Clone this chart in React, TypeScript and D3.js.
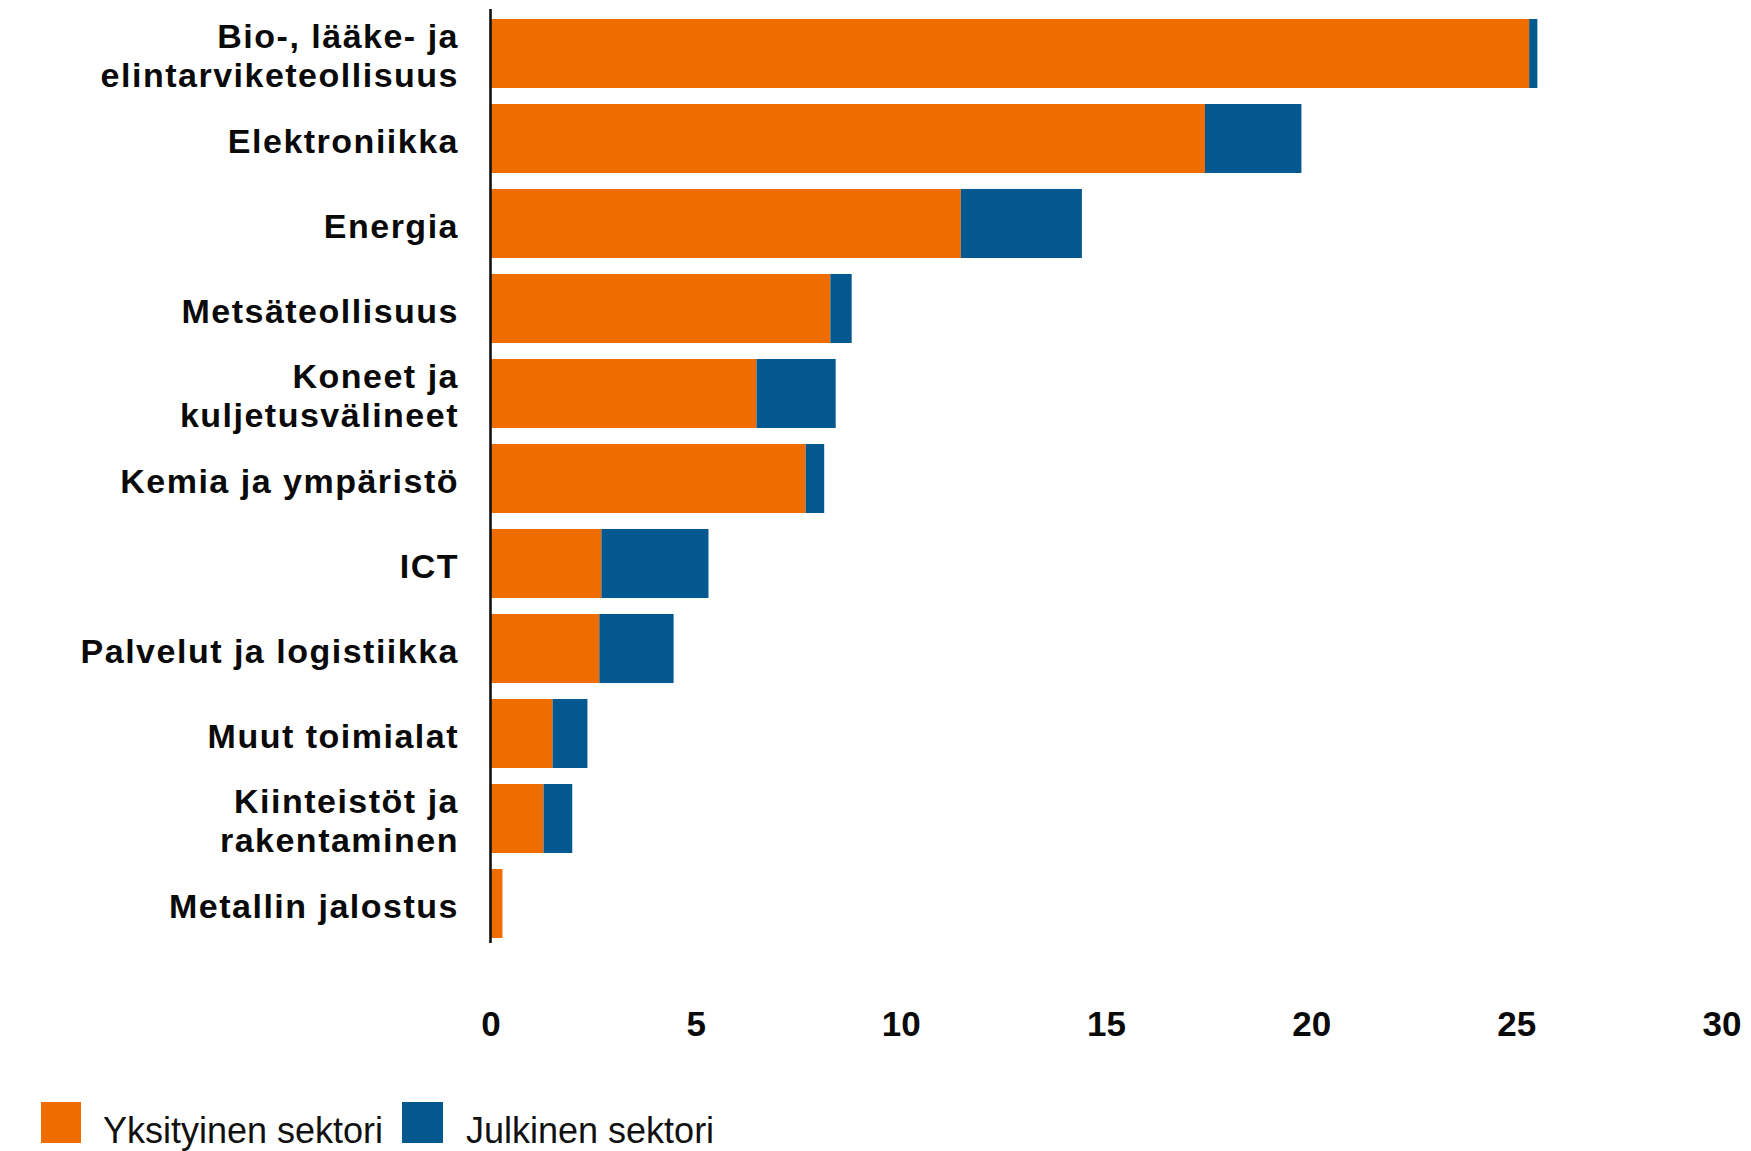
import React from "react";
import * as d3 from "d3";

const categories = [
  "Bio-, lääke- ja|elintarviketeollisuus",
  "Elektroniikka",
  "Energia",
  "Metsäteollisuus",
  "Koneet ja|kuljetusvälineet",
  "Kemia ja ympäristö",
  "ICT",
  "Palvelut ja logistiikka",
  "Muut toimialat",
  "Kiinteistöt ja|rakentaminen",
  "Metallin jalostus",
];
const privateSector = [25.3, 17.4, 11.45, 8.27, 6.47, 7.67, 2.69, 2.64, 1.5, 1.28, 0.28];
const publicSector = [0.2, 2.35, 2.95, 0.52, 1.93, 0.45, 2.61, 1.81, 0.85, 0.7, 0];
const tickValues = [0, 5, 10, 15, 20, 25, 30];
const seriesNames = ["Yksityinen sektori", "Julkinen sektori"];
const colors = ["#EF6D00", "#03588F"];

const W = 1751;
const H = 1151;
const FONT = "'Liberation Sans', Arial, Helvetica, sans-serif";

export default function App() {
  const x = d3.scaleLinear().domain([0, 30]).range([491, 1722]);
  const y = d3
    .scaleBand<string>()
    .domain(categories)
    .range([11, 946])
    .paddingInner(0.188)
    .paddingOuter(0.094);

  const rows = categories.map((c, i) => ({
    c,
    lines: c.split("|"),
    vals: [privateSector[i], publicSector[i]],
  }));
  const stack = d3.stack<any>().keys(["0", "1"]).value((d: any, k) => d.vals[+k]);
  const stacked = stack(rows as any);

  return (
    <svg
      width={W}
      height={H}
      style={{ position: "absolute", left: 0, top: 0, background: "#fff" }}
      fontFamily={FONT}
    >
      {stacked.map((layer, si) => (
        <g key={si} fill={colors[si]}>
          {layer.map((seg: any, i: number) => {
            const w = x(seg[1]) - x(seg[0]);
            if (w <= 0) return null;
            return (
              <rect
                key={i}
                x={x(seg[0])}
                y={y(categories[i])}
                width={w}
                height={y.bandwidth()}
              />
            );
          })}
        </g>
      ))}
      <line x1={490.5} x2={490.5} y1={9} y2={943} stroke="#111" strokeWidth={2.6} />
      {rows.map((r) => {
        const cy = (y(r.c) as number) + y.bandwidth() / 2;
        const n = r.lines.length;
        return (
          <text
            key={r.c}
            textAnchor="end"
            fontWeight="bold"
            fontSize={34}
            letterSpacing={1.5}
            fill="#0a0a0a"
          >
            {r.lines.map((l, li) => (
              <tspan key={li} x={459} y={cy + 14 + (li - (n - 1) / 2) * 39.5}>
                {l}
              </tspan>
            ))}
          </text>
        );
      })}
      {tickValues.map((t) => (
        <text
          key={t}
          x={x(t)}
          y={1036}
          textAnchor="middle"
          fontWeight="bold"
          fontSize={35}
          fill="#0a0a0a"
        >
          {t}
        </text>
      ))}
      <g>
        <rect x={41} y={1102} width={40} height={41} fill={colors[0]} />
        <text x={103} y={1143} fontSize={36} fill="#111">
          {seriesNames[0]}
        </text>
        <rect x={402} y={1102} width={41} height={41} fill={colors[1]} />
        <text x={466} y={1143} fontSize={36} fill="#111">
          {seriesNames[1]}
        </text>
      </g>
    </svg>
  );
}
